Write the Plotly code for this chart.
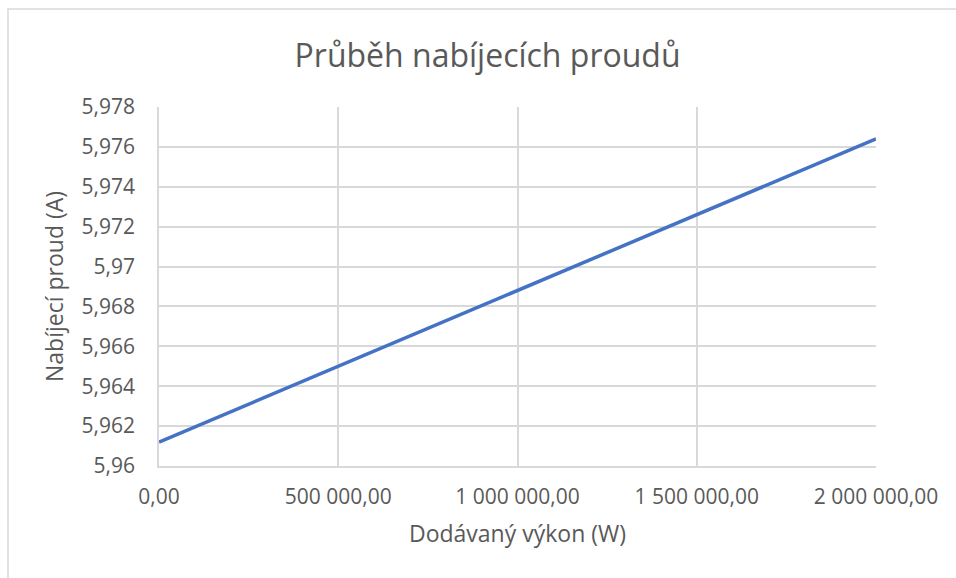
import plotly.graph_objects as go

# data
vykon_w = [0, 500000, 1000000, 1500000, 2000000]
proud_a = [5.9612, 5.9650, 5.9688, 5.9726, 5.9764]

x_ticks = [0, 500000, 1000000, 1500000, 2000000]
x_labels = ["0,00", "500 000,00", "1 000 000,00", "1 500 000,00", "2 000 000,00"]
y_ticks = [5.960, 5.962, 5.964, 5.966, 5.968, 5.970, 5.972, 5.974, 5.976, 5.978]
y_labels = ["5,96", "5,962", "5,964", "5,966", "5,968", "5,97", "5,972", "5,974", "5,976", "5,978"]

TXT = "#595959"
GRID = "#d9d9d9"
FONT = "Open Sans"

W, H = 956, 578
L, R, T, B = 159, 80, 107, 112
pw, ph = W - L - R, H - T - B

fig = go.Figure(go.Scatter(x=vykon_w, y=proud_a, mode="lines",
                           line=dict(color="#4472C4", width=3.5), hoverinfo="x+y"))

fig.update_layout(
    width=W, height=H,
    margin=dict(l=L, r=R, t=T, b=B),
    paper_bgcolor="white", plot_bgcolor="white",
    showlegend=False,
    font=dict(family=FONT, color=TXT, size=21),
    title=dict(text="Průběh nabíjecích proudů", x=0.51, xanchor="center",
               y=1 - 56 / H, yanchor="middle",
               font=dict(family=FONT, size=32, color=TXT)),
    xaxis=dict(range=[0, 2000000], tickvals=x_ticks, ticktext=x_labels,
               showgrid=True, gridcolor=GRID, gridwidth=1.5, zeroline=False,
               showline=True, linecolor=GRID, linewidth=1.5, ticks="",
               ticklabelstandoff=11,
               title=dict(text="Dodávaný výkon (W)", standoff=17,
                          font=dict(size=23, color=TXT))),
    yaxis=dict(range=[5.96, 5.978], tickvals=y_ticks, ticktext=y_labels,
               showgrid=True, gridcolor=GRID, gridwidth=1.5, zeroline=False,
               showline=True, linecolor=GRID, linewidth=1.5, ticks="",
               ticklabelstandoff=18,
               title=dict(text="Nabíjecí proud (A)", standoff=12,
                          font=dict(size=23, color=TXT))),
    shapes=[dict(type="rect", xref="paper", yref="paper",
                 x0=(8 - L) / pw, x1=(W + 5 - L) / pw,
                 y0=-(H + 5 - T - ph) / ph, y1=(T + ph - 9) / ph,
                 line=dict(color=GRID, width=1.5), fillcolor="rgba(0,0,0,0)",
                 layer="below")],
)

# page body has a default 8px margin; drop it so the chart fills the window
fig.write_html("out.html", config={"displayModeBar": False},
               post_script="document.body.style.margin='0';")
